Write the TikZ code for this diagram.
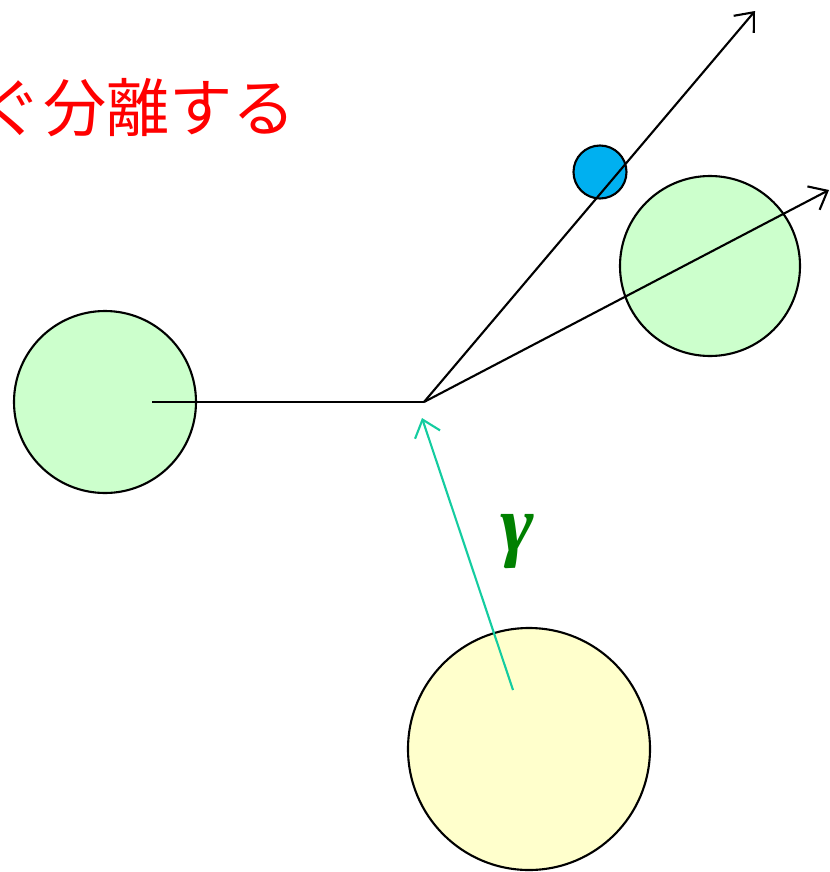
\documentclass[tikz,border=0pt]{standalone}
\usepackage{fontspec}
\newfontfamily\jpfont{Noto Sans CJK JP}
\newfontfamily\grfont{Liberation Serif}
\usetikzlibrary{arrows.meta}

\definecolor{ballgreen}{RGB}{204,255,204}
\definecolor{ballyellow}{RGB}{255,255,204}
\definecolor{ballblue}{RGB}{0,176,240}
\definecolor{raycol}{RGB}{20,204,160}
\definecolor{labgreen}{RGB}{0,128,0}

\begin{document}
\begin{tikzpicture}[x=0.02cm, y=-0.02cm, line width=1.2pt,
    ball/.style={circle, draw, inner sep=0pt},
    track/.style={-{Straight Barb[length=9pt,width=15pt]}}]

    \useasboundingbox (0,0) rectangle (829,872);

    % Define the balls
    \node[ball, fill=ballgreen, minimum size=182*0.02cm] (left) at (105,402) {};
    \node[ball, fill=ballgreen, minimum size=180*0.02cm] (right) at (710,266) {};
    \node[ball, fill=ballyellow, minimum size=242*0.02cm] (source) at (529,749) {};
    \node[ball, fill=ballblue, minimum size=53*0.02cm] (small) at (600,172) {};

    % Define the points of the tracks
    \coordinate (start) at (152,402);
    \coordinate (V) at (424,402);
    \coordinate (P) at (755,11);
    \coordinate (Q) at (829,190);
    \coordinate (emit) at (513,690);
    \coordinate (hit) at (422,418);

    % Draw the tracks
    \draw (start) -- (V);
    \draw[track] (V) -- (P);
    \draw[track] (V) -- (Q);
    \draw[track, raycol] (emit) -- (hit);

    % Place the labels
    \node[text=labgreen, font=\grfont\bfseries\itshape\fontsize{46}{48}\selectfont] (gamma) at (517,542) {γ};
    \node[anchor=east, text=red, font=\jpfont\fontsize{36}{40}\selectfont] (title) at (303,108) {ぐ分離する};

\end{tikzpicture}
\end{document}
